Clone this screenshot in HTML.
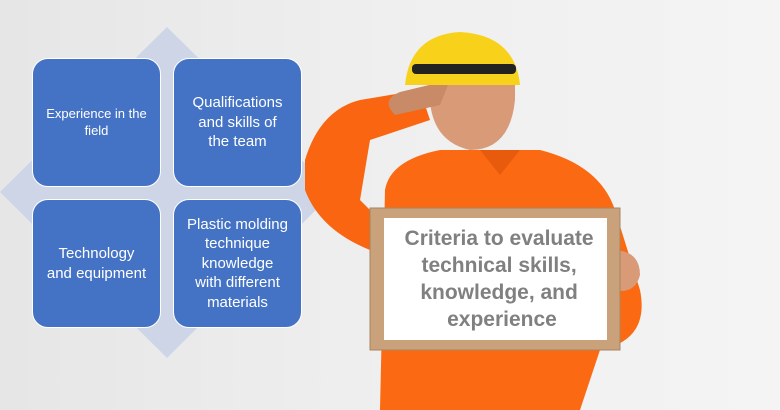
<!DOCTYPE html>
<html><head><meta charset="utf-8">
<style>
html,body{margin:0;padding:0}
body{width:780px;height:410px;overflow:hidden;position:relative;font-family:"Liberation Sans",sans-serif;background:linear-gradient(90deg,#e6e6e6 0%,#efefef 50%,#f4f4f4 100%)}
.box{position:absolute;width:129px;height:129px;background:#4472c4;border:1.5px solid #fff;border-radius:16px;color:#fff;display:flex;align-items:center;justify-content:center;text-align:center;box-sizing:border-box;padding:4px;line-height:1.3;white-space:nowrap}
</style></head><body>
<svg width="780" height="410" style="position:absolute;left:0;top:0">
  <polygon points="167,27 334,192 167,358 0,192" fill="#cdd5e6"/>
  <g>
    <path d="M380,410 L385,190 Q390,160 440,150 L540,150 Q600,165 615,210 L640,290 Q650,340 600,350 L580,410 Z" fill="#fb6a12"/>
    <path d="M305,160 Q320,110 360,100 L420,90 L430,120 L370,140 L360,200 L390,230 L370,250 Q320,230 305,190 Z" fill="#f96510"/>
    <path d="M480,150 L500,175 L520,150 Z" fill="#e85a0c"/>
    <path d="M430,80 Q425,140 470,150 Q510,150 515,100 L515,80 Z" fill="#d99a78"/>
    <path d="M400,92 Q380,100 395,115 L440,105 L450,80 Z" fill="#c98a68"/>
    <path d="M405,85 Q410,35 460,32 Q515,35 520,85 Z" fill="#f8d21a"/>
    <rect x="412" y="64" width="104" height="10" rx="4" fill="#222"/>
    <path d="M612,250 Q640,250 640,275 Q635,295 612,290 Z" fill="#d99a78"/>
  </g>
  <rect x="370" y="208" width="250" height="142" fill="#c9a27c" stroke="#a88560"/>
  <rect x="384" y="218" width="223" height="122" fill="#ffffff"/>
  <text font-family="Liberation Sans, sans-serif" font-weight="bold" font-size="21" fill="#808080" text-anchor="middle">
    <tspan x="502" y="245">Criteria to evaluate</tspan>
    <tspan x="502" y="272">technical skills,</tspan>
    <tspan x="502" y="299">knowledge, and</tspan>
    <tspan x="502" y="326">experience</tspan>
  </text>
</svg>
<div class="box" style="left:32px;top:58px;font-size:13px">Experience in the<br>field</div>
<div class="box" style="left:173px;top:58px;font-size:15px">Qualifications<br>and skills of<br>the team</div>
<div class="box" style="left:32px;top:199px;font-size:15px">Technology<br>and equipment</div>
<div class="box" style="left:173px;top:199px;font-size:15px">Plastic molding<br>technique<br>knowledge<br>with different<br>materials</div>
</body></html>
